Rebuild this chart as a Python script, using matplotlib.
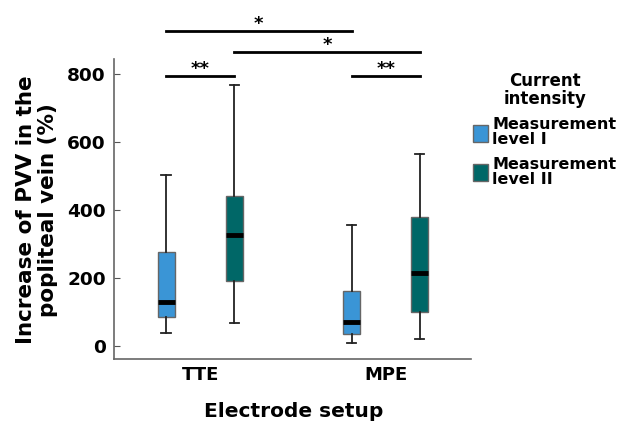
import matplotlib
matplotlib.use("Agg")
import matplotlib.pyplot as plt
from matplotlib.patches import Patch

plt.rcParams['font.family'] = ['DejaVu Sans']

groups = ["TTE", "MPE"]
series = ["Measurement\nlevel I", "Measurement\nlevel II"]
colors = ["#3a95d6", "#006767"]
# stats per series per group: (whislo, q1, med, q3, whishi)
stats = {
    "Measurement\nlevel I": [(39, 85, 130, 277, 503), (8, 34, 72, 163, 356)],
    "Measurement\nlevel II": [(67, 191, 325, 440, 766), (21, 100, 214, 380, 563)],
}
yticks = [0, 200, 400, 600, 800]
# significance brackets: (x1, x2, y, label)
sig = [(-0.184, 0.184, 792, "**"), (0.816, 1.184, 792, "**"),
       (0.184, 1.184, 864, "*"), (-0.184, 0.816, 925, "*")]

fig = plt.figure(figsize=(6.2, 4.23), dpi=100)
ax = fig.add_axes([114/620, 1-359/423, (471-114)/620, (359-59)/423])

offsets = [-0.184, 0.184]
for si, s in enumerate(series):
    bxp = []
    for gi, st in enumerate(stats[s]):
        lo, q1, med, q3, hi = st
        bxp.append(dict(whislo=lo, q1=q1, med=med, q3=q3, whishi=hi, fliers=[]))
    pos = [gi + offsets[si] for gi in range(len(groups))]
    ax.bxp(bxp, positions=pos, widths=0.092, patch_artist=True, showfliers=False,
           boxprops=dict(facecolor=colors[si], edgecolor="#666666", linewidth=1),
           medianprops=dict(color="black", linewidth=3.5),
           whiskerprops=dict(color="#222222", linewidth=1.3),
           capprops=dict(color="#222222", linewidth=1.3), capwidths=0.05)

ax.set_xlim(-0.465, 1.46)
ax.set_ylim(-38, 843)
ax.set_xticks(range(len(groups)))
ax.set_xticklabels(groups, fontsize=13, fontweight='bold')
ax.set_yticks(yticks)
ax.set_yticklabels([str(t) for t in yticks], fontsize=13.3, fontweight='bold')
ax.tick_params(axis='y', direction='in', length=4, color="#555555", pad=6)
ax.tick_params(axis='x', length=0, pad=5)
for sp in ['top', 'right']:
    ax.spines[sp].set_visible(False)
for sp in ['left', 'bottom']:
    ax.spines[sp].set_color("#666666")
    ax.spines[sp].set_linewidth(1.2)

ax.set_ylabel("Increase of PVV in the\npopliteal vein (%)", fontsize=15.5,
              fontweight='bold', linespacing=1.15)
ax.yaxis.set_label_coords(-0.157, 0.497)
ax.set_xlabel("Electrode setup", fontsize=14.5, fontweight='bold')
ax.xaxis.set_label_coords(0.503, -0.143)

for x1, x2, y, lab in sig:
    ax.plot([x1, x2], [y, y], color="black", linewidth=2, clip_on=False)
    ax.annotate(lab, xy=((x1 + x2) / 2, y), xytext=(0, 2), textcoords='offset pixels',
                ha='center', va='baseline', fontsize=13, fontweight='bold',
                annotation_clip=False)

handles = [Patch(facecolor=c, edgecolor="#666666", label=s) for s, c in zip(series, colors)]
leg = fig.legend(handles=handles, title="Current\nintensity", loc='upper left',
                 bbox_to_anchor=(462/620, 1-61/423), frameon=False,
                 prop=dict(size=11.5, weight='bold'), handlelength=0.95, handleheight=1.25,
                 handletextpad=0.25, labelspacing=0.58, borderpad=0.2)
leg.get_title().set_fontsize(12)
leg.get_title().set_fontweight('bold')
leg.get_title().set_multialignment('center')
leg.get_title().set_linespacing(1.0)
for t in leg.get_texts():
    t.set_linespacing(1.0)
leg._legend_box.align = "center"

fig.savefig("out.png", dpi=100)
